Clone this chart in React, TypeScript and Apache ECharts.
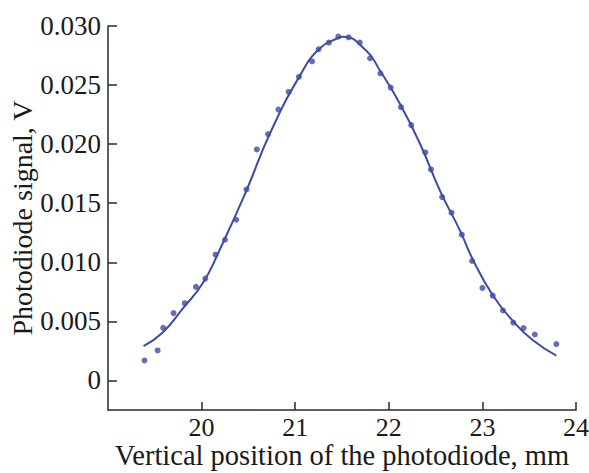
import React, { useEffect, useRef } from "react";
import * as echarts from "echarts";

// Measured points (x in mm, y in V)
const pointX = [19.39, 19.53, 19.59, 19.70, 19.82, 19.94, 20.04, 20.15, 20.25, 20.37, 20.48, 20.59, 20.71, 20.82, 20.93, 21.04, 21.18, 21.25, 21.36, 21.46, 21.57, 21.69, 21.80, 21.91, 22.02, 22.13, 22.24, 22.39, 22.45, 22.57, 22.67, 22.78, 22.89, 23.00, 23.11, 23.22, 23.33, 23.44, 23.56, 23.79];
const pointY = [0.00169, 0.00254, 0.00445, 0.00570, 0.00654, 0.00792, 0.00862, 0.01065, 0.01191, 0.01360, 0.01617, 0.01955, 0.02085, 0.02293, 0.02442, 0.02569, 0.02701, 0.02803, 0.02860, 0.02910, 0.02904, 0.02860, 0.02727, 0.02598, 0.02479, 0.02313, 0.02161, 0.01930, 0.01786, 0.01552, 0.01420, 0.01234, 0.01011, 0.00783, 0.00718, 0.00592, 0.00490, 0.00443, 0.00389, 0.00308];

// Fitted curve
const curveX = [19.38, 19.59, 19.80, 20.01, 20.19, 20.48, 20.73, 21.05, 21.26, 21.46, 21.51, 21.76, 21.90, 22.12, 22.33, 22.55, 22.76, 22.90, 23.12, 23.33, 23.54, 23.79];
const curveY = [0.0029, 0.0041, 0.0061, 0.0082, 0.0110, 0.0161, 0.0209, 0.0258, 0.0281, 0.0290, 0.0291, 0.0279, 0.0263, 0.0234, 0.0201, 0.0160, 0.0127, 0.0102, 0.0071, 0.0050, 0.0034, 0.0021];

const xTicks = [20, 21, 22, 23, 24];
const yTicks = [0, 0.005, 0.01, 0.015, 0.02, 0.025, 0.03];

const xTitle = "Vertical position of the photodiode, mm";
const yTitle = "Photodiode signal, V";

const FONT = '"Liberation Serif", "Times New Roman", serif';
const BLUE = "#3d4ba6";
const AXIS = "#2a2a2a";

export default function App() {
  const ref = useRef<HTMLDivElement>(null);
  useEffect(() => {
    if (!ref.current) return;
    const chart = echarts.init(ref.current, undefined, { renderer: "svg" });
    chart.setOption({
      animation: false,
      backgroundColor: "#ffffff",
      grid: { left: 108, right: 13, top: 26, bottom: 63, containLabel: false, outerBoundsMode: "none" },
      xAxis: {
        type: "value",
        min: 19,
        max: 24,
        name: xTitle,
        nameLocation: "middle",
        nameGap: 31,
        nameMoveOverlap: false,
        nameTextStyle: { fontFamily: FONT, fontSize: 28.5, color: "#1a1a1a" },
        axisLine: { show: true, onZero: false, lineStyle: { color: AXIS, width: 1.5 } },
        axisTick: { show: true, inside: true, length: 8, customValues: xTicks, lineStyle: { color: AXIS, width: 1.5 } },
        axisLabel: { customValues: xTicks, margin: 4, fontFamily: FONT, fontSize: 26, color: "#1a1a1a" },
        splitLine: { show: false },
      },
      yAxis: {
        type: "value",
        min: -0.0025,
        max: 0.03,
        name: yTitle,
        nameLocation: "middle",
        nameGap: 72,
        nameMoveOverlap: false,
        nameTextStyle: { fontFamily: FONT, fontSize: 28, color: "#1a1a1a" },
        axisLine: { show: true, onZero: false, lineStyle: { color: AXIS, width: 1.5 } },
        axisTick: { show: true, inside: true, length: 9, customValues: yTicks, lineStyle: { color: AXIS, width: 1.5 } },
        axisLabel: {
          customValues: yTicks,
          margin: 7,
          fontFamily: FONT,
          fontSize: 27,
          color: "#1a1a1a",
          formatter: (v: number) => (Math.abs(v) < 1e-12 ? "0" : v.toFixed(3)),
        },
        splitLine: { show: false },
      },
      series: [
        {
          type: "line",
          data: curveX.map((x, i) => [x, curveY[i]]),
          smooth: true,
          showSymbol: false,
          lineStyle: { color: BLUE, width: 2 },
          z: 2,
        },
        {
          type: "scatter",
          data: pointX.map((x, i) => [x, pointY[i]]),
          symbol: "circle",
          symbolSize: 6,
          itemStyle: { color: BLUE },
          z: 3,
        },
      ],
    });
    return () => chart.dispose();
  }, []);
  return (
    <div
      ref={ref}
      style={{ position: "absolute", left: 0, top: 0, width: 589, height: 473, background: "#fff" }}
    />
  );
}
